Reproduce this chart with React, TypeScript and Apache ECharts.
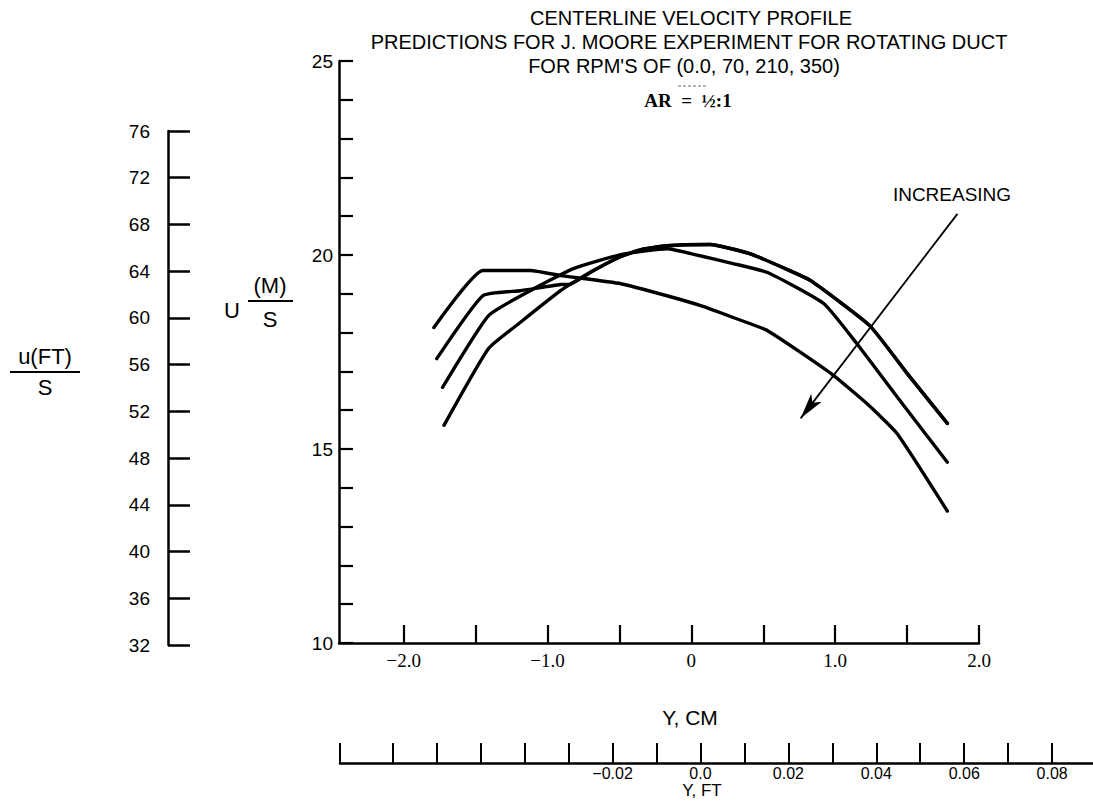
import React, { useEffect, useRef } from "react";
import * as echarts from "echarts";

// ---- axis tick / label values ----
const yCmTicks = [-2.0, -1.5, -1.0, -0.5, 0, 0.5, 1.0, 1.5, 2.0];
const yCmLabels = [-2, -1, 0, 1, 2];
const uMsLabels = [10, 15, 20, 25];
const yFtTicks = [-0.082, -0.07, -0.06, -0.05, -0.04, -0.03, -0.02, -0.01, 0, 0.01, 0.02, 0.03, 0.04, 0.05, 0.06, 0.07, 0.08];
const yFtLabels = [-0.02, 0, 0.02, 0.04, 0.06, 0.08];

// ---- series (Y in cm, U in m/s) ----
const rpm350: [number, number][] = [
  [-1.79, 18.13], [-1.45, 19.6], [-1.12, 19.6], [-0.91, 19.47], [-0.49, 19.26], [-0.17, 18.95],
  [0.06, 18.7], [0.29, 18.39], [0.53, 18.05], [0.97, 16.95], [1.22, 16.17], [1.43, 15.4], [1.78, 13.4],
];
const rpm210: [number, number][] = [
  [-1.77, 17.33], [-1.45, 18.95], [-1.19, 19.08], [-0.91, 19.24], [-0.84, 19.25], [-0.68, 19.6],
  [-0.49, 19.96], [-0.35, 20.14], [-0.17, 20.24], [0.13, 20.27], [0.41, 20.03], [0.64, 19.67],
  [0.83, 19.34], [1.24, 18.18], [1.5, 16.95], [1.78, 15.66],
];
const rpm70: [number, number][] = [
  [-1.73, 16.59], [-1.41, 18.44], [-1.12, 19.08], [-0.82, 19.65], [-0.49, 20.01], [-0.17, 20.16],
  [0.06, 19.98], [0.29, 19.78], [0.53, 19.55], [0.92, 18.75], [1.15, 17.72], [1.45, 16.25], [1.78, 14.66],
];
const rpm0: [number, number][] = [
  [-1.72, 15.61], [-1.41, 17.59], [-1.19, 18.26], [-0.91, 19.08], [-0.84, 19.25], [-0.68, 19.6],
  [-0.49, 19.96], [-0.35, 20.14], [-0.17, 20.24], [0.13, 20.27], [0.41, 20.03], [0.64, 19.67],
  [0.83, 19.34], [1.24, 18.18], [1.5, 16.95], [1.78, 15.66],
];
const arrowStart = [1.85, 21.06];
const arrowEnd = [0.76, 15.79];

const titleLines = [
  "CENTERLINE VELOCITY PROFILE",
  "PREDICTIONS FOR J. MOORE EXPERIMENT FOR ROTATING DUCT",
  "FOR RPM'S OF (0.0, 70, 210, 350)",
];

const SANS = "Liberation Sans";
const SERIF = "Liberation Serif";

function txt(x: number, y: number, text: string, font: string, align = "center"): any {
  return { type: "text", x, y, style: { text, fill: "#000", font, textAlign: align, textVerticalAlign: "middle" } };
}

function buildOption(): any {
  const lineStyle = { color: "#000", width: 3.4, cap: "round", join: "round" };
  const mk = (name: string, data: [number, number][]) => ({
    name,
    type: "line",
    xAxisIndex: 0,
    yAxisIndex: 0,
    data,
    smooth: 0.15,
    showSymbol: false,
    symbol: "none",
    lineStyle,
    z: 3,
  });
  const axisLine = { show: true, onZero: false, lineStyle: { color: "#000", width: 2.5 } };
  return {
    animation: false,
    backgroundColor: "#fff",
    grid: [
      { left: 339, top: 61, right: 114, bottom: 158 },
      { left: 168, top: 131, width: 60, bottom: 156 },
      { left: 340, right: 0, top: 700, bottom: 38 },
    ],
    xAxis: [
      {
        type: "value", gridIndex: 0, min: -2.45, max: 2.0,
        axisLine,
        splitLine: { show: false },
        axisTick: { show: true, inside: true, length: 18, customValues: yCmTicks, lineStyle: { color: "#000", width: 2.2 } },
        axisLabel: {
          show: true, customValues: yCmLabels, margin: 8, color: "#000",
          fontFamily: SERIF, fontSize: 19,
          formatter: (v: number) => (v === 0 ? "0" : (v < 0 ? "\u2212" : "") + Math.abs(v).toFixed(1)),
        },
      },
      { type: "value", gridIndex: 1, min: 0, max: 1, show: false },
      {
        type: "value", gridIndex: 2, min: -0.082, max: 0.0893,
        axisLine,
        splitLine: { show: false },
        axisTick: { show: true, inside: true, length: 20, customValues: yFtTicks, lineStyle: { color: "#000", width: 2 } },
        axisLabel: {
          show: true, customValues: yFtLabels, margin: 2, color: "#000",
          fontFamily: SANS, fontSize: 16,
          formatter: (v: number) => (Math.abs(v) < 1e-9 ? "0.0" : (v < 0 ? "\u2212" : "") + Math.abs(v).toFixed(2)),
        },
      },
    ],
    yAxis: [
      {
        type: "value", gridIndex: 0, min: 10, max: 25, interval: 1,
        axisLine,
        splitLine: { show: false },
        axisTick: { show: true, inside: true, length: 14, lineStyle: { color: "#000", width: 2.2 } },
        axisLabel: { show: true, customValues: uMsLabels, margin: 6, color: "#000", fontFamily: SANS, fontSize: 19 },
      },
      {
        type: "value", gridIndex: 1, min: 32, max: 76, interval: 4,
        axisLine,
        splitLine: { show: false },
        axisTick: { show: true, inside: true, length: 22, lineStyle: { color: "#000", width: 2.5 } },
        axisLabel: { show: true, margin: 18, color: "#000", fontFamily: SANS, fontSize: 19 },
      },
      { type: "value", gridIndex: 2, min: 0, max: 1, show: false },
    ],
    series: [
      mk("350 RPM", rpm350),
      mk("210 RPM", rpm210),
      mk("70 RPM", rpm70),
      {
        ...mk("0 RPM", rpm0),
        markLine: {
          silent: true,
          symbol: ["none", "arrow"],
          symbolSize: [10, 26],
          label: { show: false },
          lineStyle: { color: "#000", width: 1.8, type: "solid" },
          data: [[{ coord: arrowStart }, { coord: arrowEnd }]],
        },
      },
    ],
    graphic: [
      txt(691, 18, titleLines[0], `20px "${SANS}"`),
      txt(689, 42, titleLines[1], `20px "${SANS}"`),
      txt(684, 66, titleLines[2], `20px "${SANS}"`),
      { type: "line", shape: { x1: 678, y1: 86, x2: 706, y2: 86 }, style: { stroke: "#666", lineWidth: 1, lineDash: [3, 2] } },
      txt(688, 100, "AR  =  \u00BD:1", `bold 19px "${SERIF}"`),
      txt(952, 194, "INCREASING", `19px "${SANS}"`),
      txt(690, 717, "Y, CM", `21px "${SANS}"`),
      txt(702, 790, "Y, FT", `17px "${SANS}"`),
      // u(FT)/S
      txt(45, 356, "u(FT)", `22px "${SANS}"`),
      { type: "line", shape: { x1: 10, y1: 372, x2: 80, y2: 372 }, style: { stroke: "#000", lineWidth: 2 } },
      txt(45, 387, "S", `22px "${SANS}"`),
      // U (M)/S
      txt(232, 310, "U", `22px "${SANS}"`),
      txt(270, 285, "(M)", `22px "${SANS}"`),
      { type: "line", shape: { x1: 248, y1: 301, x2: 293, y2: 301 }, style: { stroke: "#000", lineWidth: 2 } },
      txt(270, 319, "S", `22px "${SANS}"`),
    ],
  };
}

export default function App() {
  const ref = useRef<HTMLDivElement>(null);
  useEffect(() => {
    if (!ref.current) return;
    const chart = echarts.init(ref.current, null, { renderer: "svg" });
    chart.setOption(buildOption());
    return () => chart.dispose();
  }, []);
  return <div ref={ref} style={{ position: "absolute", left: 0, top: 0, width: 1093, height: 801, background: "#fff" }} />;
}
